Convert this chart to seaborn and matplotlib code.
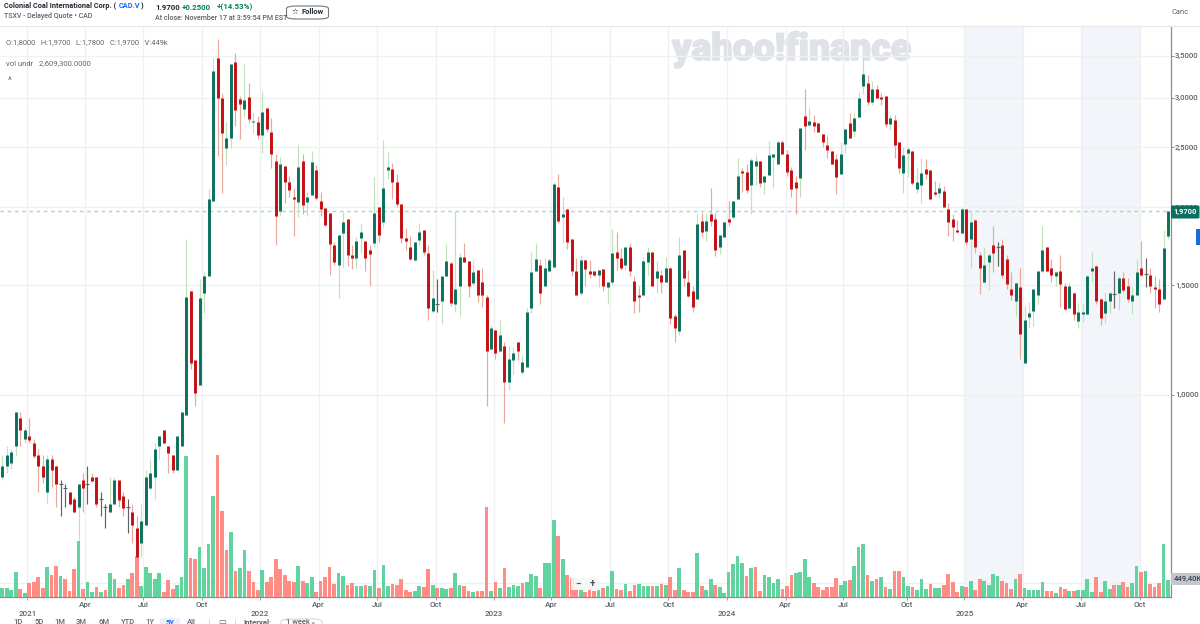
import matplotlib
matplotlib.use("Agg")
import matplotlib.pyplot as plt
import matplotlib.dates as mdates
import matplotlib.patheffects as pe
from matplotlib.lines import Line2D
from matplotlib.patches import FancyBboxPatch, Rectangle
import pandas as pd
import seaborn as sns

body_high = [
 .769,.801,.810,.939,.919,.879,.859,.838,.801,.769,
 .789,.789,.769,.720,.709,.699,.681,.720,.730,.720,
 .739,.739,.681,.661,.668,.730,.730,.689,.661,.649,
 .612,.628,.739,.750,.819,.859,.879,.828,.801,.859,
 .939,1.436,1.469,1.138,1.431,1.549,2.064,3.311,3.474,2.997,
 2.585,3.396,3.423,2.986,2.975,3.008,2.753,2.743,2.846,2.888,
 2.643,2.374,2.348,2.331,2.197,2.079,2.322,2.374,2.079,2.365,
 2.297,2.049,1.996,1.960,1.742,1.808,1.896,1.917,1.679,1.768,
 1.828,1.768,1.711,1.960,2.004,2.149,2.322,2.306,2.197,2.026,
 1.788,1.730,1.762,1.828,1.841,1.692,1.431,1.400,1.549,1.643,
 1.631,1.481,1.667,1.667,1.643,1.572,1.589,1.520,1.436,1.281,
 1.271,1.248,1.199,1.142,1.168,1.216,1.130,1.359,1.572,1.655,
 1.619,1.601,1.649,2.181,2.157,1.953,1.989,1.781,1.583,1.649,
 1.649,1.583,1.583,1.589,1.595,1.520,1.692,1.698,1.661,1.730,
 1.730,1.526,1.447,1.643,1.698,1.698,1.578,1.560,1.601,1.601,
 1.339,1.679,1.711,1.520,1.469,1.882,1.903,1.903,1.953,1.917,
 1.808,1.896,1.917,2.049,2.246,2.288,2.280,2.383,2.374,2.374,
 2.246,2.428,2.437,2.547,2.547,2.437,2.297,2.197,2.682,2.804,
 2.753,2.743,2.732,2.624,2.519,2.464,2.392,2.437,2.672,2.732,
 2.783,2.997,3.275,3.168,3.098,3.098,3.008,3.019,2.783,2.763,
 2.547,2.428,2.482,2.464,2.197,2.272,2.306,2.297,2.118,2.149,
 2.125,1.989,1.917,1.841,1.989,1.989,1.896,1.910,1.679,1.619,
 1.679,1.742,1.730,1.742,1.655,1.481,1.514,1.492,1.319,1.354,
 1.481,1.583,1.711,1.730,1.601,1.572,1.583,1.498,1.498,1.458,
 1.359,1.359,1.549,1.601,1.613,1.426,1.415,1.458,1.452,1.543,
 1.543,1.498,1.447,1.572,1.601,1.566,1.560,1.492,1.481,1.723,
 1.97]

body_low = [
 .739,.769,.778,.828,.879,.850,.847,.798,.769,.739,
 .699,.758,.720,.720,.709,.668,.649,.661,.709,.720,
 .727,.668,.681,.661,.649,.668,.678,.659,.661,.618,
 .549,.579,.618,.709,.739,.828,.838,.807,.758,.758,
 .828,.929,1.126,1.007,1.037,1.458,1.549,2.049,2.997,2.634,
 2.491,2.585,2.867,2.931,2.878,2.773,2.743,2.614,2.614,2.672,
 2.437,1.938,1.974,2.197,2.133,2.064,2.041,2.018,2.041,2.095,
 2.072,1.989,1.875,1.749,1.637,1.619,1.821,1.679,1.661,1.661,
 1.788,1.661,1.686,1.755,1.808,1.896,2.297,2.197,2.026,1.788,
 1.768,1.655,1.649,1.775,1.698,1.379,1.364,1.400,1.415,1.549,
 1.405,1.400,1.498,1.637,1.498,1.514,1.447,1.447,1.176,1.185,
 1.168,1.176,1.049,1.049,1.138,1.176,1.089,1.109,1.379,1.578,
 1.458,1.498,1.578,1.607,1.903,1.931,1.762,1.578,1.447,1.458,
 1.595,1.566,1.560,1.560,1.498,1.492,1.520,1.661,1.601,1.619,
 1.578,1.415,1.436,1.447,1.637,1.498,1.543,1.520,1.520,1.329,
 1.281,1.267,1.543,1.442,1.384,1.426,1.828,1.834,1.903,1.711,
 1.730,1.794,1.896,1.931,2.064,2.272,2.133,2.173,2.331,2.189,
 2.197,2.254,2.410,2.348,2.437,2.280,2.141,2.149,2.230,2.702,
 2.712,2.702,2.643,2.547,2.473,2.348,2.238,2.263,2.528,2.585,
 2.653,2.793,3.133,2.953,2.953,2.997,2.986,2.722,2.722,2.519,
 2.314,2.272,2.446,2.189,2.141,2.173,2.263,2.064,2.102,2.110,
 2.004,1.896,1.861,1.828,1.821,1.762,1.781,1.730,1.601,1.520,
 1.637,1.692,1.730,1.555,1.509,1.447,1.415,1.253,1.126,1.334,
 1.364,1.447,1.578,1.578,1.555,1.549,1.509,1.374,1.379,1.349,
 1.315,1.349,1.349,1.578,1.415,1.329,1.354,1.415,1.452,1.458,
 1.475,1.426,1.415,1.447,1.555,1.566,1.498,1.481,1.400,1.426,
 1.80]

wick_high = [
 .801,.828,.819,.939,.939,.889,.919,.850,.819,.801,
 .801,.801,.769,.730,.720,.699,.686,.720,.750,.769,
 .750,.739,.699,.668,.739,.739,.730,.699,.681,.668,
 .639,.668,.758,.789,.838,.859,.879,.828,.801,.859,
 .939,1.781,1.469,1.138,1.532,1.578,2.141,3.474,3.727,3.053,
 2.743,3.396,3.539,3.019,3.396,3.168,2.835,2.804,3.075,2.888,
 2.783,2.437,2.410,2.331,2.246,2.149,2.519,2.437,2.118,2.464,
 2.339,2.118,1.996,1.960,1.762,1.808,1.967,1.917,1.742,1.794,
 1.882,1.768,1.742,2.238,2.004,2.566,2.455,2.357,2.263,2.026,
 1.855,1.801,1.762,1.889,1.841,1.742,1.589,1.532,1.549,1.749,
 1.637,1.974,1.692,1.755,1.643,1.649,1.589,1.601,1.447,1.295,
 1.271,1.319,1.216,1.199,1.194,1.216,1.159,1.379,1.698,1.755,
 1.655,1.661,1.661,2.197,2.263,2.079,1.989,1.781,1.661,1.679,
 1.655,1.649,1.583,1.589,1.595,1.520,1.848,1.828,1.723,1.730,
 1.755,1.549,1.498,1.667,1.730,1.698,1.643,1.589,1.667,1.607,
 1.349,1.794,1.711,1.589,1.498,1.953,1.960,1.960,2.149,1.960,
 1.808,1.896,2.049,2.049,2.401,2.314,2.348,2.401,2.428,2.374,
 2.246,2.556,2.437,2.566,2.566,2.473,2.322,2.246,2.682,3.098,
 2.899,2.814,2.732,2.624,2.604,2.464,2.437,2.547,2.672,2.835,
 2.835,3.064,3.487,3.263,3.191,3.144,3.053,3.019,2.814,2.814,
 2.547,2.500,2.500,2.464,2.314,2.401,2.392,2.297,2.205,2.197,
 2.165,2.033,1.953,1.910,1.996,1.989,1.967,1.917,1.698,1.730,
 1.692,1.868,1.762,1.781,1.679,1.572,1.520,1.601,1.389,1.410,
 1.481,1.583,1.868,1.730,1.655,1.578,1.679,1.514,1.514,1.463,
 1.405,1.400,1.555,1.698,1.619,1.431,1.463,1.469,1.583,1.549,
 1.572,1.543,1.492,1.655,1.768,1.661,1.601,1.549,1.532,1.841,
 1.97]

wick_low = [
 .730,.750,.761,.801,.828,.838,.838,.792,.699,.722,
 .671,.712,.661,.639,.661,.666,.649,.585,.649,.668,
 .725,.661,.639,.612,.649,.668,.661,.639,.600,.579,
 .549,.549,.618,.704,.681,.789,.838,.750,.750,.758,
 .828,.929,1.101,.960,1.037,1.354,1.549,2.049,2.419,2.110,
 2.339,2.491,2.702,2.575,2.793,2.732,2.634,2.575,2.446,2.643,
 2.314,1.742,1.938,2.033,2.079,1.801,1.931,1.953,1.938,2.095,
 2.056,1.938,1.868,1.560,1.619,1.431,1.601,1.613,1.595,1.601,
 1.692,1.583,1.498,1.730,1.762,1.855,2.222,2.064,2.004,1.755,
 1.711,1.649,1.643,1.742,1.679,1.319,1.354,1.359,1.300,1.549,
 1.389,1.359,1.339,1.637,1.436,1.503,1.410,1.384,.960,1.181,
 1.142,1.172,.902,1.019,1.081,1.138,1.081,1.109,1.354,1.578,
 1.400,1.498,1.578,1.607,1.889,1.755,1.717,1.549,1.447,1.447,
 1.498,1.543,1.549,1.492,1.469,1.400,1.503,1.589,1.589,1.589,
 1.549,1.354,1.359,1.447,1.560,1.498,1.458,1.458,1.520,1.300,
 1.216,1.248,1.498,1.436,1.359,1.426,1.794,1.768,1.868,1.673,
 1.686,1.794,1.868,1.917,2.064,2.118,2.110,1.953,2.173,2.157,
 2.102,2.254,2.149,2.348,2.437,2.246,2.079,1.953,2.079,2.473,
 2.712,2.643,2.643,2.500,2.401,2.348,2.102,2.263,2.446,2.585,
 2.595,2.793,3.042,2.920,2.920,2.997,2.920,2.692,2.663,2.401,
 2.272,2.110,2.238,2.173,2.110,2.033,2.222,2.064,2.087,2.072,
 2.004,1.801,1.768,1.828,1.821,1.742,1.601,1.692,1.452,1.514,
 1.475,1.572,1.613,1.543,1.481,1.421,1.339,1.142,1.126,1.281,
 1.290,1.400,1.572,1.572,1.520,1.498,1.384,1.369,1.379,1.319,
 1.281,1.310,1.344,1.520,1.400,1.295,1.305,1.354,1.379,1.369,
 1.463,1.410,1.349,1.447,1.549,1.492,1.458,1.379,1.359,1.426,
 1.78]

# g = close above open, r = close below open, n = unchanged (grey doji)
candle_dir = ("ggggrgrrrr" "grrnnrrgrn" "rrnnggrrnr" "rgggggrrrg" "ggrrggggrr"
              "ggrrgrgrgr" "rrgrrrgrgg" "rrrrrggrrg" "grrgrggrrr" "rrggrrgngg"
              "rggrrgrrrg" "rgrggrgggg" "rgggrgrrrg" "rrrgrggrrg" "rrrggrgrgr"
              "rgrrrgrgrr" "ggrggrrggr" "ggggrrrrgr" "grrrrrrggr" "gggrgrrrgr"
              "rggrggrrrg" "rrrrgrgrrg" "grnrrrgrgg" "gggrrgrrgr" "ggggrrggng"
              "rrggrnrrrg" "g")

volume_k = [
 242,225,181,639,216,104,354,397,527,225,
 786,570,812,553,458,156,726,1460,216,389,
 138,251,121,190,613,475,225,311,475,613,
 1063,276,778,622,458,622,121,432,216,302,
 510,3646,1020,994,1287,752,1374,2609,3689,2238,
 1218,1693,683,752,1227,674,380,190,691,389,
 510,985,726,579,415,397,804,423,354,510,
 130,423,510,786,346,622,553,302,363,294,
 294,302,276,708,233,829,276,328,311,458,
 190,138,164,294,268,726,320,233,233,207,
 225,613,320,276,164,138,164,164,2341,164,
 389,233,752,268,302,276,363,389,596,553,
 225,873,873,2004,1590,994,579,501,207,207,
 121,190,147,190,225,276,683,199,173,346,
 156,320,337,276,276,294,294,337,320,527,
 190,752,173,138,121,1149,276,181,458,320,
 268,112,657,855,1071,873,536,752,786,147,
 579,518,363,475,207,276,579,613,639,994,
 518,363,268,181,268,268,492,311,423,449,
 804,1287,1382,579,415,458,518,268,207,683,
 683,527,294,251,181,475,207,328,225,225,
 302,596,380,130,276,251,415,181,475,415,
 320,588,553,423,363,207,458,588,242,173,
 181,190,380,156,156,112,268,199,164,156,
 181,181,458,138,527,138,423,207,320,320,
 380,251,372,812,648,665,328,251,354,1382,
 449.4]

volume_dir = ("gggg" "rgrrrr" "grrgrrrgrg" "grgrggrrgr" "rggggg" "rrrg" "ggrrggggrr"
              "rgrggrrrgr" "rrrrrrgrgg" "rrrrrggrrg" "grggrggrrr" "rrggrrgrgg"
              "rggrrgrrrg" "rgrgggrggg" "rgggrgrrrg" "rrrgrggrrg" "rrggg" "rgrgr"
              "rgrrrgrggr" "ggggggrgrr" "ggggrrrggg" "grrrrrrggr" "gggrgrgrgr"
              "rggrgggrgg" "rrrrgrgrrg" "gggrrrgrgg" "gggrrgrrgr" "ggggrrggrg"
              "rrggrgrrrg" "g")

price_ticks = [1.0, 1.5, 2.0, 2.5, 3.0, 3.5]
last_price = 1.97
last_volume_label = "449,40K"
shaded_periods = [("2025-01-03", "2025-04-04"), ("2025-07-04", "2025-10-04")]
month_ticks = ["2021-04-01", "2021-07-01", "2021-10-01", "2022-04-01", "2022-07-01", "2022-10-01",
               "2023-03-30", "2023-06-30", "2023-09-29", "2024-03-30", "2024-06-28", "2024-10-05",
               "2025-04-04", "2025-07-04", "2025-10-04"]
month_labels = ["Apr", "Jul", "Oct"] * 5
year_ticks = ["2021-01-01", "2021-12-30", "2022-12-30", "2023-12-29", "2025-01-03"]
year_labels = ["2021", "2022", "2023", "2024", "2025"]

weeks = pd.date_range(end="2025-11-17", periods=len(candle_dir), freq="7D")
df = pd.DataFrame({"week": weeks, "body_high": body_high, "body_low": body_low,
                   "wick_high": wick_high, "wick_low": wick_low, "dir": list(candle_dir),
                   "volume": volume_k, "vol_dir": list(volume_dir)})
df["x"] = mdates.date2num(df["week"])

sns.set_theme(style="white")
plt.rcParams["font.family"] = ["Roboto", "DejaVu Sans"]
W, H = 1200, 624
fig = plt.figure(figsize=(12, 6.24), dpi=100, facecolor="white")
rect = [0, 1 - 597 / H, 1171 / W, (597 - 26) / H]
ax_vol = fig.add_axes(rect, zorder=1)
ax = fig.add_axes(rect, zorder=2, facecolor="none")

x0 = df["x"].iloc[0] - 3.6
x1 = df["x"].iloc[-1] + 4.7
grid_c = "#eff0f2"

# volume layer
sns.barplot(data=df, x="x", y="volume", hue="vol_dir", hue_order=["g", "r"],
            palette={"g": "#62d39f", "r": "#ff8d85"}, native_scale=True, dodge=False,
            width=0.82, saturation=1, errorbar=None, legend=False, linewidth=0, ax=ax_vol, zorder=3)
for p in ax_vol.patches:
    centre = p.get_x() + p.get_width() / 2
    p.set_width(5.8)
    p.set_x(centre - 2.9)
for a, b in shaded_periods:
    ax_vol.axvspan(mdates.datestr2num(a), mdates.datestr2num(b), color="#f2f5f9", lw=0, zorder=0)
ax_vol.set_xlim(x0, x1)
ax_vol.set_ylim(0, 14790)
ax_vol.set_xlabel("")
ax_vol.set_ylabel("")
ax_vol.set_yticks([363])
ax_vol.set_yticklabels([])
ax_vol.tick_params(axis="y", length=0)
ax_vol.grid(True, axis="y", color=grid_c, lw=1.0, zorder=1)
ax_vol.set_axisbelow(False)
for l in ax_vol.get_ygridlines():
    l.set_zorder(1)

m_nums = mdates.datestr2num(month_ticks)
y_nums = mdates.datestr2num(year_ticks)
ax_vol.set_xticks(list(m_nums) + list(y_nums))
ax_vol.set_xticklabels(month_labels + year_labels, fontsize=5.8, color="#5b636a", fontweight="medium")
ticks = ax_vol.xaxis.get_major_ticks()
for i, t in enumerate(ticks):
    t.tick1line.set_markersize(2)
    t.tick1line.set_color("#9aa0a6")
    t.set_pad(1.4 if i < len(month_ticks) else 7.8)
    if i >= len(month_ticks):
        t.tick1line.set_markersize(6)
        t.tick1line.set_markeredgewidth(0.6)
    t.tick1line.set_visible(True)
for xv in list(m_nums) + list(y_nums):
    ax_vol.axvline(xv, color=grid_c, lw=0.95, zorder=1)
for s in ["top", "left"]:
    ax_vol.spines[s].set_visible(False)
for s in ["right", "bottom"]:
    ax_vol.spines[s].set_color("#8c8c8c")
    ax_vol.spines[s].set_linewidth(0.9)
ax_vol.tick_params(axis="x", bottom=True, length=2, width=0.7, color="#9aa0a6")

# price layer
ax.set_yscale("log")
ax.set_ylim(0.4737, 3.91)
ax.set_xlim(x0, x1)
ax.set_xticks([])
ax.minorticks_off()
ax.yaxis.tick_right()
ax.set_yticks(price_ticks)
ax.set_yticklabels([f"{p:.4f}".replace(".", ",") for p in price_ticks], fontsize=5.6, color="#5b636a", fontweight="medium")
ax.tick_params(axis="y", which="major", right=True, length=2, width=0.7, color="#8c8c8c", pad=1.0)
ax.tick_params(axis="y", which="minor", right=False, left=False, labelright=False, labelleft=False)
ax.grid(True, axis="y", color=grid_c, lw=1.0, zorder=1)
ax.set_axisbelow(True)
for s in ax.spines.values():
    s.set_visible(False)

ax.axhline(last_price, color="#a3d9ca", lw=1.0, dashes=(2.6, 2.6), zorder=2)

wick_colors = {"g": "#bfe2b9", "r": "#e8a99d", "n": "#5f6265"}
body_colors = {"g": "#0a6f5c", "r": "#c40f12", "n": "#5f6265"}
for d in "grn":
    part = df[df["dir"] == d]
    ax.vlines(part["x"], part["wick_low"], part["wick_high"], color=wick_colors[d],
              lw=0.85, zorder=3)
    if d == "n":
        ax.plot(part["x"], part["body_high"], ls="", marker="_", ms=3.2, mew=0.8,
                color=body_colors[d], zorder=4)
    else:
        ax.vlines(part["x"], part["body_low"], part["body_high"], color=body_colors[d],
                  lw=2.1, zorder=4)

# watermark behind everything
ax_vol.text(791.5 / W, 1 - 49 / H, "yahoo!finance", transform=fig.transFigure, fontsize=27,
            fontweight="black", family=["Roboto", "DejaVu Sans"], color="#dfe2e7",
            ha="center", va="center", zorder=0.5,
            path_effects=[pe.withStroke(linewidth=1.2, foreground="#dfe2e7")])

def txt(x, y, s, **kw):
    kw.setdefault("fontsize", 5.5)
    kw.setdefault("color", "#5b636a")
    kw.setdefault("va", "center")
    return fig.text(x / W, 1 - y / H, s, **kw)

dark = "#232a31"
green = "#00805e"
txt(4, 6, "Colonial Coal International Corp. (", color=dark, fontweight="bold", fontsize=5.3)
txt(118.5, 6, "CAD.V", color="#0f69ff", fontweight="bold", fontsize=5.3)
txt(140.5, 6, ")", color=dark, fontweight="bold", fontsize=5.3)
txt(4, 16, "TSXV - Delayed Quote • CAD", color="#5b636a", fontsize=5.0, fontweight="medium")
txt(155, 7, "1.9700", color=dark, fontweight="bold", fontsize=5.7)
txt(182, 7, "+0.2500", color=green, fontweight="bold", fontsize=5.7)
txt(217, 7, "+(14.53%)", color=green, fontweight="bold", fontsize=5.7)
txt(155, 18, "At close: November 17 at 3:59:54 PM EST", color="#5b636a", fontsize=5.1, fontweight="medium")

fig.add_artist(FancyBboxPatch((286.5 / W, 1 - 19 / H), 42 / W, 13 / H,
                              boxstyle="round,pad=0,rounding_size=0.008", mutation_aspect=H / W,
                              transform=fig.transFigure, fc="white", ec="#6e7780", lw=0.8))
txt(292, 12.5, "☆", color=dark, fontsize=5.5, family="DejaVu Sans")
txt(301, 12.5, "Follow", color=dark, fontweight="bold", fontsize=5.4)
txt(1171, 12, "Canc", color="#5b636a", fontsize=5.4)

fig.add_artist(Line2D([0, 1], [1 - 25.5 / H] * 2, color="#e6e8ea", lw=0.9, transform=fig.transFigure))

txt(6, 43, "O:1,8000   H:1,9700   L:1,7800   C:1,9700   V:449k", fontsize=5.4, color="#5f666d")
txt(6, 63, "vol undr   2,609,300.0000", fontsize=5.5, color="#5f666d")
txt(10, 81, "^", fontsize=6.5, color="#5f666d", ha="center")

# right-hand value tags
fig.add_artist(FancyBboxPatch((1171 / W, 1 - 218.5 / H), 28.5 / W, 13 / H,
                              boxstyle="round,pad=0,rounding_size=0.002", mutation_aspect=H / W,
                              transform=fig.transFigure, fc="#0a6f5c", ec="none", zorder=5))
txt(1185.5, 212, "1,9700", color="white", fontweight="bold", fontsize=5.4, ha="center", zorder=6)
fig.add_artist(Rectangle((1196 / W, 1 - 245 / H), 4 / W, 16 / H, transform=fig.transFigure,
                         fc="#1a6be0", ec="none", zorder=5))
fig.add_artist(Rectangle((1171 / W, 1 - 585 / H), 29 / W, 12 / H, transform=fig.transFigure,
                         fc="#c3c6cf", ec="none", zorder=5))
txt(1174, 578.5, last_volume_label, color="#3b4045", fontsize=5.5, fontweight="medium", zorder=6)

# chart zoom control
fig.add_artist(Rectangle((571 / W, 1 - 590 / H), 28 / W, 12 / H, transform=fig.transFigure,
                         fc="#f4f5f6", ec="none", zorder=5, alpha=0.9))
txt(578, 584, "−", color="#555b61", fontsize=7, ha="center", zorder=6, fontweight="bold")
txt(592, 584, "+", color="#555b61", fontsize=7, ha="center", zorder=6, fontweight="bold")

# range toolbar, cut by the lower edge
for xc, lab in zip([18, 39, 60, 81, 104, 128, 150, 191], ["1D", "5D", "1M", "3M", "6M", "YTD", "1Y", "All"]):
    txt(xc, 622.5, lab, ha="center", fontsize=5.5, color="#5b636a", fontweight="medium")
fig.add_artist(FancyBboxPatch((160 / W, 1 - 630 / H), 20 / W, 12 / H, boxstyle="round,pad=0,rounding_size=0.003",
                              mutation_aspect=H / W, transform=fig.transFigure, fc="#e8f0fe", ec="none"))
txt(170, 622.5, "5Y", ha="center", fontsize=5.5, color="#0f69ff", fontweight="bold", zorder=6)
txt(222, 622, "▭", ha="center", fontsize=6, family="DejaVu Sans", color="#5b636a")
txt(258, 622.5, "Interval:", ha="center", fontsize=5.6, color="#5b636a", fontweight="bold")
fig.add_artist(FancyBboxPatch((281 / W, 1 - 632 / H), 41 / W, 13 / H, boxstyle="round,pad=0,rounding_size=0.008",
                              mutation_aspect=H / W, transform=fig.transFigure, fc="white", ec="#d5d8dc", lw=0.8))
txt(298, 622.5, "1 week", ha="center", fontsize=5.5, color="#5b636a", fontweight="medium")
txt(313, 622, "⌄", ha="center", fontsize=5.5, family="DejaVu Sans", color="#5b636a")
for xs in (209, 235):
    fig.add_artist(Line2D([xs / W] * 2, [0, 5 / H], color="#d5d8dc", lw=0.7, transform=fig.transFigure))

fig.savefig("out.png", dpi=100, facecolor="white")
